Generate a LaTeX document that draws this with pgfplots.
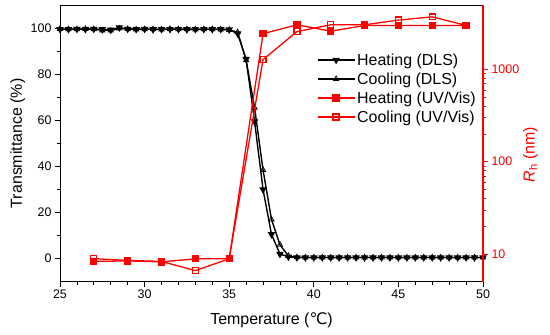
\documentclass[border=0pt]{standalone}
\usepackage{pgfplots}
\usepackage{pgfplotstable}
\pgfplotsset{compat=1.18}
\usepackage{fontspec}
\setmainfont{Liberation Sans}
\newfontfamily\djv{DejaVu Sans}
\definecolor{myred}{RGB}{255,0,0}

\pgfplotstableread{
x heat cool
25 99.5 99.6
25.5 99.5 99.5
26 99.6 99.5
26.5 99.5 99.6
27 99.6 99.5
27.5 99.4 99.0
28 99.2 98.9
28.5 100.2 99.8
29 99.6 99.6
29.5 99.5 99.4
30 99.6 99.5
30.5 99.4 99.5
31 99.5 99.4
31.5 99.5 99.6
32 99.5 99.5
32.5 99.4 99.5
33 99.5 99.4
33.5 99.5 99.5
34 99.5 99.5
34.5 99.5 99.4
35 99.3 99.2
35.5 97.6 98.2
36 86.5 86.0
36.5 59.5 65.5
37 30.0 38.5
37.5 10.5 17.0
38 2.0 6.0
38.5 0.8 1.2
39 0.5 0.6
39.5 0.5 0.5
40 0.5 0.5
40.5 0.5 0.5
41 0.5 0.5
41.5 0.5 0.5
42 0.5 0.5
42.5 0.5 0.5
43 0.5 0.5
43.5 0.5 0.5
44 0.5 0.5
44.5 0.5 0.5
45 0.5 0.5
45.5 0.5 0.5
46 0.5 0.5
46.5 0.5 0.5
47 0.5 0.5
47.5 0.5 0.5
48 0.5 0.5
48.5 0.5 0.5
49 0.5 0.5
49.5 0.5 0.5
50 0.5 0.5
}\dls

\pgfplotstableread{
x heat cool
27 8.3 8.9
29 8.4 8.5
31 8.2 8.3
33 8.85 6.6
35 8.85 8.85
37 2440 1280
39 3050 2570
41 2600 3050
43 3000 3050
45 3000 3430
47 3000 3720
49 3000 3000
}\uv

\begin{document}
\begin{tikzpicture}
\pgfplotsset{
  every axis/.append style={
    scale only axis, width=423bp, height=276.7bp,
    xmin=25, xmax=50,
    /pgf/number format/assume math mode=true,
    /pgf/number format/1000 sep={},
    tick label style={font=\fontsize{12.5}{14}\selectfont},
    label style={font=\fontsize{16}{18}\selectfont},
    tick align=outside,
    major tick length=5bp, minor tick length=3bp,
  }
}
\path[use as bounding box] (-60bp,-53.3bp) rectangle (490bp,281.7bp);
\begin{axis}[
  ymin=-10, ymax=110,
  xtick={25,30,...,50}, minor x tick num=4,
  ytick={0,20,...,100}, minor y tick num=1,
  xtick pos=bottom, ytick pos=left,
  axis line style={line width=1pt},
  every tick/.style={black, line width=0.8pt},
  xlabel={Temperature ({\djv ℃})},
  ylabel={Transmittance (\%)},
  xlabel style={at={(axis description cs:0.5,-0.14)}, anchor=center},
  ylabel style={at={(axis description cs:-0.1,0.5)}, anchor=center},
]
\addplot[black, line width=1.4pt, mark=triangle, mark size=3pt, mark options={fill=white, line width=0.8pt}] table[x=x, y=cool] {\dls};
\addplot[black, line width=1.4pt, mark=triangle*, mark size=3pt, mark options={rotate=180, fill=black}] table[x=x, y=heat] {\dls};
\end{axis}
\begin{axis}[
  ymode=log, ymin=5, ymax=5000,
  axis x line=none, axis y line*=right,
  y axis line style={myred, line width=1.3pt},
  ytick={10,100,1000},
  log ticks with fixed point,
  every tick/.style={myred, line width=0.8pt},
  yticklabel style={myred},
  ylabel={\textit{R}\textsubscript{h} (nm)},
  ylabel style={myred, at={(axis description cs:1.112,0.46)}, anchor=center},
  legend style={draw=none, fill=none, at={(axis description cs:0.6,0.84)}, anchor=north west,
    font=\fontsize{16}{19}\selectfont, row sep=2bp, cells={anchor=west}},
  legend image code/.code={\draw[mark repeat=2,mark phase=2] plot coordinates {(0cm,0cm) (0.65cm,0cm) (1.3cm,0cm)};},
]
\addlegendimage{black, line width=1.4pt, mark=triangle*, mark size=3pt, mark options={rotate=180, fill=black}}
\addlegendentry{Heating (DLS)}
\addlegendimage{black, line width=1.4pt, mark=triangle, mark size=3pt, mark options={fill=white, line width=0.8pt}}
\addlegendentry{Cooling (DLS)}
\addplot[myred, line width=1.3pt, mark=square*, mark size=3pt, mark options={fill=myred}] table[x=x, y=heat] {\uv};
\addlegendentry{Heating (UV/Vis)}
\addplot[myred, line width=1.3pt, mark=square, mark size=3pt, mark options={fill=white}] table[x=x, y=cool] {\uv};
\addlegendentry{Cooling (UV/Vis)}
\end{axis}
\end{tikzpicture}
\end{document}
